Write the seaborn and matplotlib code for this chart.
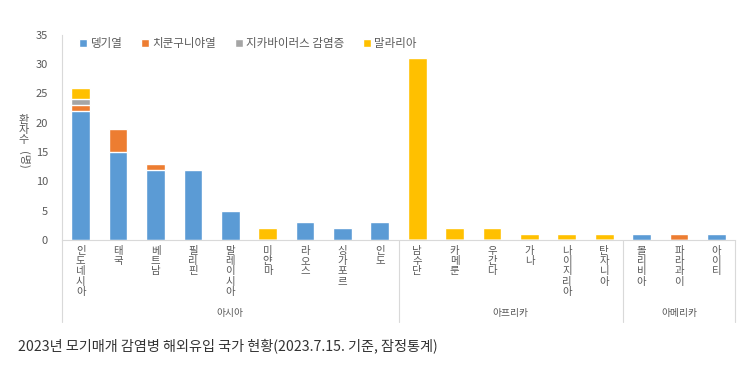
import pandas as pd
import numpy as np
import matplotlib.pyplot as plt
import seaborn as sns

# 데이터
countries = ['인도네시아', '태국', '베트남', '필리핀', '말레이시아', '미얀마', '라오스', '싱가포르', '인도',
             '남수단', '카메룬', '우간다', '가나', '나이지리아', '탄자니아',
             '볼리비아', '파라과이', '아이티']
regions = ['아시아'] * 9 + ['아프리카'] * 6 + ['아메리카'] * 3
dengue = [22, 15, 12, 12, 5, 0, 3, 2, 3, 0, 0, 0, 0, 0, 0, 1, 0, 1]
chikungunya = [1, 4, 1, 0, 0, 0, 0, 0, 0, 0, 0, 0, 0, 0, 0, 0, 1, 0]
zika = [1, 0, 0, 0, 0, 0, 0, 0, 0, 0, 0, 0, 0, 0, 0, 0, 0, 0]
malaria = [2, 0, 0, 0, 0, 2, 0, 0, 0, 31, 2, 2, 1, 1, 1, 0, 0, 0]

series_names = ['뎅기열', '치쿤구니야열', '지카바이러스 감염증', '말라리아']
colors = ['#5B9BD5', '#ED7D31', '#A5A5A5', '#FFC000']

sns.set_theme(style="white")
plt.rcParams['font.family'] = ['Noto Sans CJK KR', 'DejaVu Sans']

df = pd.DataFrame({'국가': countries, '뎅기열': dengue, '치쿤구니야열': chikungunya,
                   '지카바이러스 감염증': zika, '말라리아': malaria})
# 누적값 (위에서부터 그려서 겹치게)
cum = df[series_names].cumsum(axis=1)

fig = plt.figure(figsize=(7.43, 3.67), dpi=100)
ax = fig.add_axes([0.0834, 0.346, 0.906, 0.559])

for name, color in reversed(list(zip(series_names, colors))):
    tmp = pd.DataFrame({'국가': countries, '값': cum[name]})
    sns.barplot(data=tmp, x='국가', y='값', order=countries, color=color,
                width=0.5, saturation=1, ax=ax, label=name)

ax.set_ylim(0, 35)
ax.set_xlim(-0.5, len(countries) - 0.5)
ax.set_yticks(range(0, 36, 5))
ax.tick_params(axis='y', labelsize=8, colors='#595959', length=0, pad=10)
ax.set_xticks(range(len(countries)))
ax.set_xticklabels(['\n'.join(c) for c in countries], fontsize=7.5, color='#595959',
                   linespacing=1.05, va='top')
ax.tick_params(axis='x', length=0, pad=4)
ax.set_xlabel('')
ax.set_ylabel('')
for s in ['top', 'right']:
    ax.spines[s].set_visible(False)
for s in ['left', 'bottom']:
    ax.spines[s].set_color('#D9D9D9')
    ax.spines[s].set_linewidth(0.8)

# 범례 (순서 원래대로)
handles, labels = ax.get_legend_handles_labels()
order = [labels.index(n) for n in series_names]
ax.legend([handles[i] for i in order], series_names, loc='upper left', ncol=4,
          frameon=False, fontsize=8.3, handlelength=0.7, handleheight=0.7,
          handletextpad=0.3, columnspacing=1.6, bbox_to_anchor=(0.01, 1.04),
          labelcolor='#595959')

# y축 제목 (세로 쌓기)
fig.text(0.032, 0.645, '환\n자\n수', fontsize=8, color='#595959', ha='center', va='center',
         linespacing=1.0)
fig.text(0.032, 0.565, '(명)', fontsize=8, color='#595959', ha='center', va='center',
         rotation=270)

# 지역 구분선 및 라벨
bounds = [-0.5, 8.5, 14.5, 17.5]
group_names = ['아시아', '아프리카', '아메리카']
for b in bounds:
    ax.plot([b, b], [0, -0.4], transform=ax.get_xaxis_transform(), color='#D9D9D9',
            lw=0.8, clip_on=False)
for i, g in enumerate(group_names):
    ax.text((bounds[i] + bounds[i + 1]) / 2, -0.355, g, transform=ax.get_xaxis_transform(),
            ha='center', va='center', fontsize=7, color='#595959')

fig.text(0.024, 0.058, '2023년 모기매개 감염병 해외유입 국가 현황(2023.7.15. 기준, 잠정통계)',
         fontsize=10.2, color='#333333', ha='left', va='center')

fig.savefig('out.png', dpi=100)
